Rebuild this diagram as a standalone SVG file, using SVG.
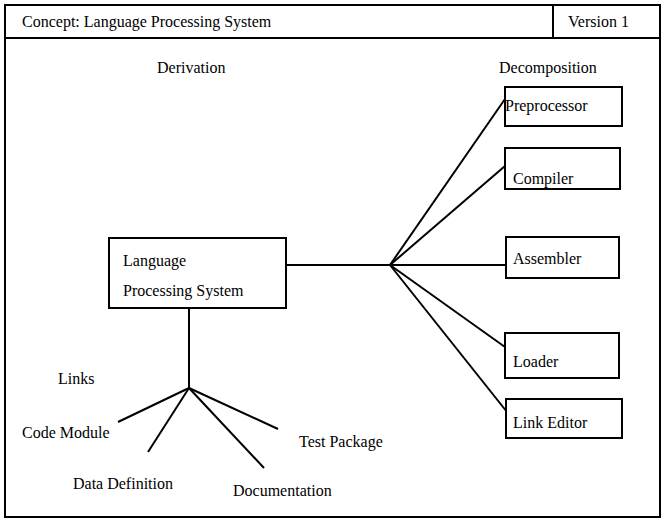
<svg xmlns="http://www.w3.org/2000/svg" width="662" height="522" viewBox="0 0 662 522" font-family="'Liberation Serif', Tinos, 'Times New Roman', 'DejaVu Serif', serif" font-size="16">
  <style>
    text { font-family: 'Liberation Serif', Tinos, 'Times New Roman', 'DejaVu Serif', serif; font-size: 16px; fill: #000; }
    .box { fill: #fff; stroke: #000; stroke-width: 2; }
    .frame { fill: none; stroke: #000; stroke-width: 2; }
    .link { stroke: #000; stroke-width: 2; fill: none; }
  </style>
  <rect width="662" height="522" fill="#fff"/>

  <!-- title frame -->
  <g id="frame">
    <rect class="frame" x="5" y="5" width="655" height="512"/>
    <line class="frame" x1="5" y1="38" x2="660" y2="38"/>
    <line class="frame" x1="553" y1="5" x2="553" y2="38"/>
    <text x="22" y="27">Concept: Language Processing System</text>
    <text x="568" y="27" font-size="17px">Version 1</text>
  </g>

  <text x="157" y="73">Derivation</text>
  <text x="499" y="73">Decomposition</text>

  <!-- connectors -->
  <g id="connectors">
    <line class="link" x1="286" y1="265" x2="390" y2="265"/>
    <line class="link" x1="390" y1="265" x2="505" y2="99"/>
    <line class="link" x1="390" y1="265" x2="505" y2="166"/>
    <line class="link" x1="390" y1="265" x2="506" y2="265"/>
    <line class="link" x1="390" y1="265" x2="505" y2="347"/>
    <line class="link" x1="390" y1="265" x2="507" y2="412"/>
    <line class="link" x1="189" y1="308" x2="189" y2="388"/>
    <line class="link" x1="189" y1="388" x2="118" y2="422"/>
    <line class="link" x1="189" y1="388" x2="148" y2="452"/>
    <line class="link" x1="189" y1="388" x2="264" y2="468"/>
    <line class="link" x1="189" y1="388" x2="278" y2="429"/>
  </g>

  <g id="lps">
    <rect class="box" x="109" y="238" width="177" height="70"/>
    <text x="123" y="266">Language</text>
    <text x="123" y="296">Processing System</text>
  </g>

  <g id="preprocessor">
    <rect class="box" x="505" y="87" width="117" height="39"/>
    <text x="505" y="111">Preprocessor</text>
  </g>
  <g id="compiler">
    <rect class="box" x="505" y="148" width="115" height="41"/>
    <text x="513" y="184">Compiler</text>
  </g>
  <g id="assembler">
    <rect class="box" x="506" y="237" width="113" height="41"/>
    <text x="513" y="264">Assembler</text>
  </g>
  <g id="loader">
    <rect class="box" x="505" y="333" width="114" height="45"/>
    <text x="513" y="367">Loader</text>
  </g>
  <g id="link-editor">
    <rect class="box" x="506" y="399" width="116" height="39"/>
    <text x="513" y="428">Link Editor</text>
  </g>

  <g id="links-label"><text x="58" y="384">Links</text></g>
  <g id="code-module"><text x="22" y="438">Code Module</text></g>
  <g id="data-definition"><text x="73" y="489">Data Definition</text></g>
  <g id="documentation"><text x="233" y="496">Documentation</text></g>
  <g id="test-package"><text x="299" y="447">Test Package</text></g>
</svg>
